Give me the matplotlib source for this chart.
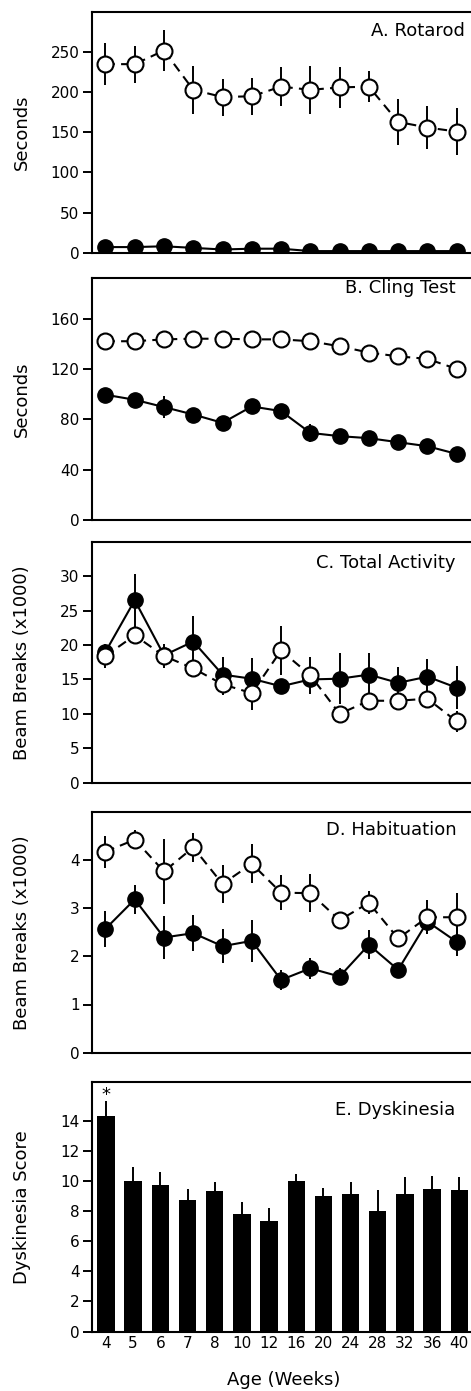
import numpy as np
import matplotlib
matplotlib.use("Agg")
import matplotlib.pyplot as plt

# ─────────────────────────────────────────
# DATA
# ─────────────────────────────────────────
# line panels share 13 time points, the bar panel has 14 ages
n_line = 13
age_labels = ["4", "5", "6", "7", "8", "10", "12", "16", "20", "24", "28", "32", "36", "40"]

# A. Rotarod (seconds)
rota_open     = [235, 235, 252, 203, 194, 195, 207, 203, 206, 207, 163, 156, 151]
rota_open_err = [26, 23, 25, 30, 23, 23, 24, 30, 26, 19, 29, 27, 29]
rota_fill     = [7, 7, 8, 6, 4, 5, 5, 2, 2, 2, 2, 2, 2]
rota_fill_err = [1, 1, 1, 1, 1, 1, 1, 1, 1, 1, 1, 1, 1]

# B. Cling test (seconds)
cling_open     = [142, 142, 143.5, 144, 144, 143.5, 143.5, 142, 138, 133, 130, 128, 120]
cling_open_err = [1, 1, 1, 1, 1, 1, 1, 2, 3, 3, 4, 3, 5]
cling_fill     = [99.5, 95.5, 89.7, 83.8, 77.2, 90.2, 86.5, 69.2, 66.6, 65.0, 61.8, 58.6, 52.5]
cling_fill_err = [5, 5, 9, 5, 3, 3, 2, 7, 3, 5, 3, 3, 2]

# C. Total activity (beam breaks x1000)
act_open     = [18.4, 21.4, 18.4, 16.6, 14.3, 13.0, 19.2, 15.6, 10.0, 11.9, 11.9, 12.2, 8.9]
act_open_err = [1.7, 1.3, 1.7, 1.0, 1.5, 2.5, 3.6, 2.7, 1.0, 1.0, 1.0, 1.0, 1.5]
act_fill     = [19.0, 26.5, 18.5, 20.5, 15.7, 15.1, 14.0, 15.0, 15.1, 15.7, 14.5, 15.4, 13.8]
act_fill_err = [1.0, 3.8, 1.0, 3.7, 2.5, 3.0, 0.5, 1.0, 3.7, 3.1, 2.3, 2.6, 3.1]

# D. Habituation (beam breaks x1000)
hab_open     = [4.17, 4.42, 3.76, 4.26, 3.50, 3.92, 3.32, 3.31, 2.75, 3.11, 2.37, 2.81, 2.81]
hab_open_err = [0.33, 0.2, 0.67, 0.3, 0.4, 0.4, 0.36, 0.4, 0.1, 0.24, 0.15, 0.35, 0.5]
hab_fill     = [2.57, 3.18, 2.39, 2.48, 2.21, 2.32, 1.51, 1.75, 1.58, 2.24, 1.72, 2.72, 2.30]
hab_fill_err = [0.38, 0.3, 0.45, 0.37, 0.35, 0.43, 0.2, 0.22, 0.17, 0.3, 0.1, 0.26, 0.3]

# E. Dyskinesia score
dysk     = [14.36, 10.0, 9.72, 8.76, 9.32, 7.79, 7.34, 10.03, 9.01, 9.16, 7.99, 9.16, 9.47, 9.39]
dysk_err = [0.97, 0.94, 0.9, 0.7, 0.6, 0.8, 0.9, 0.45, 0.55, 0.8, 1.4, 1.1, 0.85, 0.9]

# ─────────────────────────────────────────
# LAYOUT (pixel boxes of each panel)
# ─────────────────────────────────────────
W, H = 471, 1391
LEFT_PX = 92

panels = [
    # top, bottom, ylim, yticks, title, title_y, title_right
    (12, 252.7, 300, [0, 50, 100, 150, 200, 250], "A. Rotarod", 31, 465),
    (278.3, 520, 192, [0, 40, 80, 120, 160], "B. Cling Test", 288, 456),
    (541.7, 782.7, 35, [0, 5, 10, 15, 20, 25, 30], "C. Total Activity", 563, 455),
    (811.7, 1052.7, 5, [0, 1, 2, 3, 4], "D. Habituation", 830, 457),
    (1082, 1331.5, 16.6, [0, 2, 4, 6, 8, 10, 12, 14], "E. Dyskinesia", 1110, 455),
]

line_series = [
    (rota_open, rota_open_err, rota_fill, rota_fill_err),
    (cling_open, cling_open_err, cling_fill, cling_fill_err),
    (act_open, act_open_err, act_fill, act_fill_err),
    (hab_open, hab_open_err, hab_fill, hab_fill_err),
]

ylabels = [("Seconds", 0), ("Seconds", 1), ("Beam Breaks (x1000)", 2),
           ("Beam Breaks (x1000)", 3), ("Dyskinesia Score", 4)]

plt.rcParams["font.family"] = "DejaVu Sans"

fig = plt.figure(figsize=(W / 100, H / 100), dpi=100)


def make_axes(top, bottom):
    ax = fig.add_axes([LEFT_PX / W, 1 - bottom / H, (W - LEFT_PX) / W, (bottom - top) / H])
    ax.spines["right"].set_visible(False)
    for s in ("left", "top", "bottom"):
        ax.spines[s].set_linewidth(1.5)
    ax.tick_params(axis="y", direction="out", length=6.5, width=1.4, pad=2.5, labelsize=11)
    ax.tick_params(axis="x", length=0)
    return ax


axes = []
for i, (top, bottom, ytop, yticks, title, ty, tr) in enumerate(panels):
    ax = make_axes(top, bottom)
    ax.set_ylim(0, ytop)
    ax.set_yticks(yticks)
    fig.text(tr / W, 1 - ty / H, title, ha="right", va="center", fontsize=13)
    axes.append(ax)

# line panels
x_line = np.arange(n_line)
for ax, (op, ope, fi, fie) in zip(axes[:4], line_series):
    ax.errorbar(x_line, fi, yerr=fie, fmt="none", ecolor="black", elinewidth=1.4, zorder=1)
    ax.plot(x_line, fi, color="black", lw=1.5, marker="o", ms=11,
            mfc="black", mec="black", zorder=2)
    ax.errorbar(x_line, op, yerr=ope, fmt="none", ecolor="black", elinewidth=1.4, zorder=3)
    ax.plot(x_line, op, color="black", lw=1.5, ls=(0, (4.5, 3)), marker="o", ms=11.5,
            mfc="white", mec="black", mew=1.5, zorder=4)
    ax.set_xlim(-0.46, 12.49)
    ax.set_xticks([])

# bar panel
ax = axes[4]
x_bar = np.arange(len(age_labels))
ax.bar(x_bar, dysk, width=0.64, color="black", zorder=2)
ax.errorbar(x_bar, dysk, yerr=[np.zeros(len(dysk)), dysk_err], fmt="none",
            ecolor="black", elinewidth=1.4, zorder=1)
ax.set_xlim(-0.515, 13.43)
ax.set_xticks(x_bar)
ax.set_xticklabels(age_labels, fontsize=11)
ax.tick_params(axis="x", pad=3)
ax.text(x_bar[0], dysk[0] + dysk_err[0] - 0.2, "*", ha="center", va="bottom", fontsize=13)

fig.text(284 / W, 1 - 1380 / H, "Age (Weeks)", ha="center", va="center", fontsize=13)

for label, idx in ylabels:
    top, bottom = panels[idx][0], panels[idx][1]
    fig.text(22 / W, 1 - (top + bottom) / 2 / H, label, rotation=90,
             ha="center", va="center", fontsize=13)

fig.savefig("out.png", dpi=100)
